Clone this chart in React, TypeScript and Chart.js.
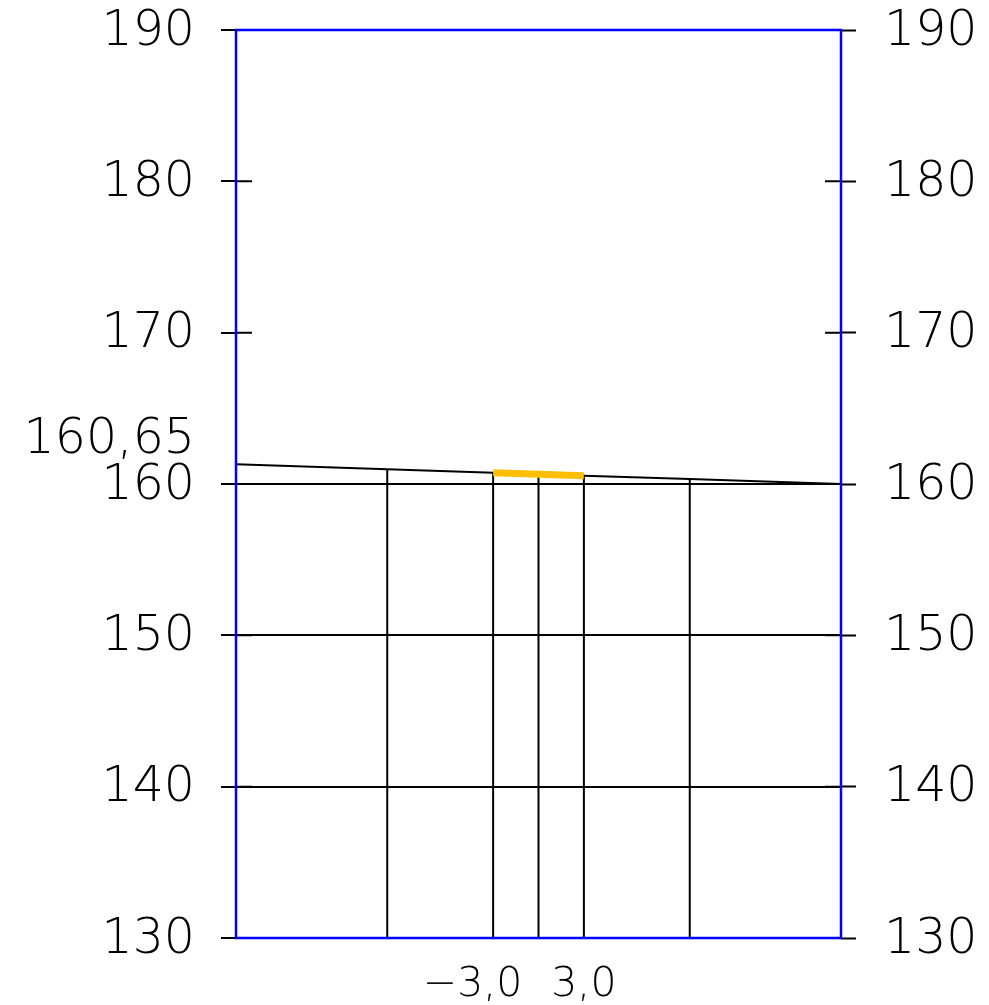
import React, { useEffect, useRef } from "react";
import { Chart, registerables } from "chart.js";

Chart.register(...registerables);

// ---- data ----
const stationX = [-20, -10, -3, 0, 3, 10, 20];
const groundLevel = [161.3, 160.98, 160.75, 160.65, 160.55, 160.33, 160.0];
const verticalX = [-10, -3, 0, 3, 10];
const roadX = [-3, 3];
const roadLevel = [160.75, 160.55];
const yTickValues = [130, 140, 150, 160, 170, 180, 190];
const yGridValues = [140, 150, 160];
const xTickValues = [-3, 3];
const xTickLabels = ["\u22123,0\u2003", "3,0"];
const levelLabels = ["160,65"];

const FONT_FAMILY = "'DejaVu Sans'";
const FONT_WEIGHT = 200;

export default function App() {
  const ref = useRef<HTMLCanvasElement | null>(null);

  useEffect(() => {
    if (!ref.current) return;

    const groundAt = (x: number) => groundLevel[stationX.indexOf(x)];

    const verticalSets = verticalX.map((x) => ({
      data: [
        { x, y: yTickValues[0] },
        { x, y: groundAt(x) },
      ],
      borderColor: "#000000",
      borderWidth: 2,
      pointRadius: 0,
      showLine: true,
      order: 2,
    }));

    const framePlugin = {
      id: "frame",
      afterDatasetsDraw(chart: any) {
        const { ctx, chartArea } = chart;
        const y = chart.scales.y;
        ctx.save();
        // inner tick marks
        ctx.strokeStyle = "#000000";
        ctx.lineWidth = 2;
        yTickValues.forEach((v) => {
          const py = y.getPixelForValue(v);
          ctx.beginPath();
          ctx.moveTo(chartArea.left, py);
          ctx.lineTo(chartArea.left + 16, py);
          ctx.moveTo(chartArea.right - 16, py);
          ctx.lineTo(chartArea.right, py);
          ctx.stroke();
        });
        // blue frame
        ctx.strokeStyle = "#0000FF";
        ctx.lineWidth = 2.5;
        ctx.strokeRect(
          chartArea.left,
          chartArea.top,
          chartArea.right - chartArea.left,
          chartArea.bottom - chartArea.top
        );
        // level label
        ctx.fillStyle = "#000000";
        ctx.font = `${FONT_WEIGHT} 49px ${FONT_FAMILY}`;
        ctx.textAlign = "right";
        ctx.textBaseline = "middle";
        ctx.fillText(levelLabels[0], chartArea.left - 41, y.getPixelForValue(160) - 44);
        ctx.restore();
      },
    };

    const fitVertical = (width: number) => (scale: any) => {
      scale.width = width;
      scale.paddingTop = 0;
      scale.paddingBottom = 0;
    };

    const chart = new Chart(ref.current, {
      type: "scatter",
      data: {
        datasets: [
          ...verticalSets,
          {
            data: stationX.map((x, i) => ({ x, y: groundLevel[i] })),
            borderColor: "#000000",
            borderWidth: 2,
            pointRadius: 0,
            showLine: true,
            order: 1,
          },
          {
            data: roadX.map((x, i) => ({ x, y: roadLevel[i] })),
            borderColor: "#FFBF00",
            borderWidth: 7,
            pointRadius: 0,
            showLine: true,
            borderCapStyle: "butt",
            order: 0,
          },
        ] as any,
      },
      options: {
        responsive: false,
        animation: false,
        layout: { padding: { top: 30, left: 0, right: 0, bottom: 0 } },
        plugins: {
          legend: { display: false },
          tooltip: { enabled: false },
          title: { display: false },
        },
        scales: {
          x: {
            type: "linear",
            position: "bottom",
            min: -20,
            max: 20,
            afterBuildTicks: (scale: any) => {
              scale.ticks = xTickValues.map((v) => ({ value: v }));
            },
            afterFit: (scale: any) => {
              scale.height = 67;
              scale.paddingLeft = 0;
              scale.paddingRight = 0;
            },
            ticks: {
              autoSkip: false,
              maxRotation: 0,
              padding: 23,
              color: "#000000",
              font: { family: FONT_FAMILY, size: 41, weight: FONT_WEIGHT as any },
              callback: (value: any) => {
                const i = xTickValues.indexOf(Number(value));
                return i >= 0 ? xTickLabels[i] : "";
              },
            },
            grid: { display: false, drawTicks: false },
            border: { display: false },
          },
          y: {
            type: "linear",
            position: "left",
            min: 130,
            max: 190,
            afterBuildTicks: (scale: any) => {
              scale.ticks = yTickValues.map((v) => ({ value: v }));
            },
            afterFit: fitVertical(236),
            ticks: {
              padding: 26,
              labelOffset: 2,
              color: "#000000",
              font: { family: FONT_FAMILY, size: 49, weight: FONT_WEIGHT as any },
              callback: (value: any) => String(value),
            },
            grid: {
              color: (c: any) =>
                c.tick && yGridValues.includes(c.tick.value) ? "#000000" : "rgba(0,0,0,0)",
              lineWidth: 2,
              tickColor: "#000000",
              tickLength: 15,
              tickWidth: 2,
            },
            border: { display: false },
          },
          y2: {
            type: "linear",
            position: "right",
            min: 130,
            max: 190,
            afterBuildTicks: (scale: any) => {
              scale.ticks = yTickValues.map((v) => ({ value: v }));
            },
            afterFit: fitVertical(148),
            ticks: {
              padding: 28,
              labelOffset: 2,
              color: "#000000",
              font: { family: FONT_FAMILY, size: 49, weight: FONT_WEIGHT as any },
              callback: (value: any) => String(value),
            },
            grid: {
              drawOnChartArea: false,
              tickColor: "#000000",
              tickLength: 15,
              tickWidth: 2,
            },
            border: { display: false },
          },
        },
      } as any,
      plugins: [framePlugin],
    });

    return () => chart.destroy();
  }, []);

  return (
    <div style={{ position: "absolute", left: 0, top: 0, width: 989, height: 1005, background: "#ffffff" }}>
      <canvas ref={ref} width={989} height={1005} style={{ width: 989, height: 1005, display: "block" }} />
    </div>
  );
}
